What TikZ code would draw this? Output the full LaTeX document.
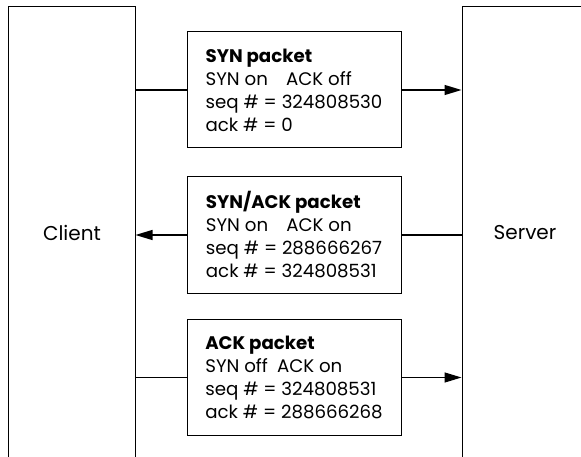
\documentclass[tikz,border=0pt]{standalone}
\usepackage{fontspec}
\setmainfont{Poppins}
\usetikzlibrary{arrows.meta}

\begin{document}
\begin{tikzpicture}[x=1pt,y=-1pt,
  host/.style={draw,line width=1pt,minimum width=127pt,minimum height=463pt},
  packet/.style={draw,line width=1pt,minimum width=214pt,minimum height=116pt,align=left,
    font=\fontsize{18.2}{23}\selectfont},
  msg/.style={line width=1.3pt,-{Triangle[length=17pt,width=10pt]}}]

\useasboundingbox (0,0) rectangle (581,457);

\node[host] (clientbox) at (71.5,238.5) {};
\node[host,minimum width=140pt] (serverbox) at (532,238.5) {};
\node[font=\fontsize{20}{24}\selectfont] (client) at (72,233) {Client};
\node[font=\fontsize{20}{24}\selectfont] (server) at (525,233) {Server};

\node[packet] (syn) at (294,90) {\textbf{SYN packet}\\SYN on\quad ACK off\\seq \# = 324808530\\ack \# = 0};
\node[packet] (synack) at (294,235) {\textbf{SYN/ACK packet}\\SYN on\quad ACK on\\seq \# = 288666267\\ack \# = 324808531};
\node[packet] (ack) at (294,377.5) {\textbf{ACK packet}\\SYN off\enspace ACK on\\seq \# = 324808531\\ack \# = 288666268};

\draw[line width=1.3pt] (syn.west -| clientbox.east) -- (syn.west);
\draw[msg] (syn.east) -- (syn.east -| serverbox.west);

\draw[line width=1.3pt] (synack.east) -- (synack.east -| serverbox.west);
\draw[msg] (synack.west) -- (synack.west -| clientbox.east);

\draw[line width=1.3pt] (ack.west -| clientbox.east) -- (ack.west);
\draw[msg] (ack.east) -- (ack.east -| serverbox.west);

\end{tikzpicture}
\end{document}
